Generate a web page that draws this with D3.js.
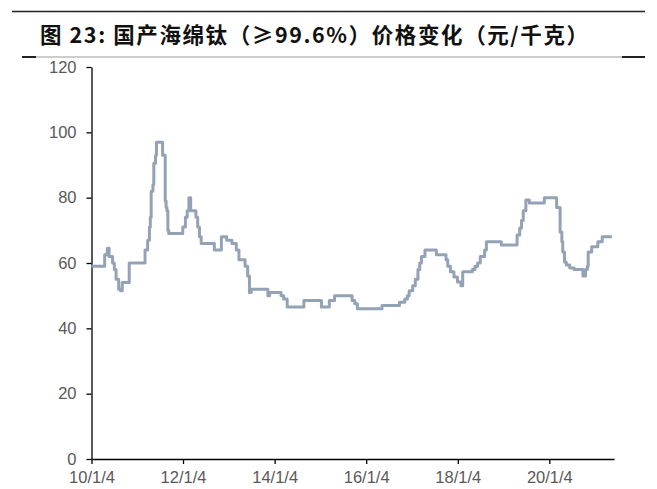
<!DOCTYPE html>
<html>
<head>
<meta charset="utf-8">
<script src="https://cdn.jsdelivr.net/npm/d3@7"></script>
<style>
  html, body { margin: 0; padding: 0; background: #fff; }
  svg { display: block; }
</style>
</head>
<body>
<svg id="chart" width="657" height="489"></svg>
<script>
// ---- data ----
const titleText = "图 23: 国产海绵钛（≥99.6%）价格变化（元/千克）";
const dates = [
  "2010-01-04","2010-04-19","2010-05-10","2010-05-24","2010-06-21","2010-07-05","2010-07-19","2010-08-09","2010-08-23","2010-09-06","2010-11-01",
  "2011-03-07","2011-03-28","2011-04-11","2011-04-18","2011-04-25","2011-05-09","2011-05-16","2011-05-30","2011-06-06","2011-07-25","2011-08-15","2011-08-22","2011-08-29","2011-09-05","2011-09-12",
  "2012-01-02","2012-01-23","2012-02-06","2012-02-20","2012-03-05","2012-04-16","2012-04-30","2012-05-14","2012-05-28","2012-09-10","2012-11-05","2012-12-17",
  "2013-01-28","2013-03-04","2013-03-25","2013-05-13","2013-06-03","2013-06-17","2013-07-01","2013-11-11","2013-11-25",
  "2014-02-24","2014-03-17","2014-04-14","2014-08-25",
  "2015-01-12","2015-03-16","2015-04-27","2015-09-14","2015-10-05","2015-10-26",
  "2016-05-09","2016-09-26","2016-11-07","2016-11-28","2016-12-12",
  "2017-01-09","2017-01-30","2017-02-20","2017-03-06","2017-03-20","2017-04-17","2017-07-17","2017-10-02","2017-10-16","2017-11-06","2017-12-04",
  "2018-01-01","2018-01-29","2018-02-12","2018-04-30","2018-05-21","2018-06-11","2018-07-02","2018-08-06","2018-08-20","2018-12-17",
  "2019-04-22","2019-05-13","2019-05-27","2019-06-10","2019-07-01","2019-07-29","2019-11-25",
  "2020-03-02","2020-03-30","2020-04-13","2020-04-20","2020-05-04","2020-05-18","2020-06-15","2020-07-20","2020-09-28","2020-10-19","2020-11-02","2020-11-09","2020-12-07",
  "2021-01-25","2021-03-01","2021-05-17"
];
const prices = [
  59,62.5,64.5,62,60,58,55,52,51.5,54,60,
  64,67,71,74,82,84,90.5,93,97,93,79,77,76,70,69,
  71,74,76,80,76,74,71,68,66,64,68,67,
  66,64,61,59,56,51,52,50,51,
  50,49,46.5,48.5,
  46.5,48.5,50,48.5,47.5,46,
  47,48,49,50,51.5,
  53,55,58,60,62,64,62.5,61,59,57.3,55.7,
  54.2,53,57.3,58,59,60,62,64,66.5,65.5,
  68.6,70.7,73,76,79.3,78.4,80,
  77,69.5,66.5,63.4,60.3,59.4,58.5,58,56,58,59,63.4,65,
  66.5,68,68
];
const yTicks = [0, 20, 40, 60, 80, 100, 120];
const xTickDates = ["2010-01-04","2012-01-04","2014-01-04","2016-01-04","2018-01-04","2020-01-04"];
const xTickLabels = ["10/1/4","12/1/4","14/1/4","16/1/4","18/1/4","20/1/4"];
const xEnd = "2021-06-03";

// ---- chart ----
const parse = d3.timeParse("%Y-%m-%d");
const data = dates.map((d, i) => ({ date: parse(d), value: prices[i] }));
const svg = d3.select("#chart");

const x = d3.scaleTime().domain([parse(dates[0]), parse(xEnd)]).range([91.5, 614]);
const y = d3.scaleLinear().domain([0, 120]).range([459, 67]);

// header rules
svg.append("line").attr("x1", 12).attr("x2", 645).attr("y1", 11.5).attr("y2", 11.5)
  .attr("stroke", "#222").attr("stroke-width", 1.5);
svg.append("line").attr("x1", 22).attr("x2", 645).attr("y1", 57).attr("y2", 57)
  .attr("stroke", "#9a9a9a").attr("stroke-width", 1);
svg.append("line").attr("x1", 22).attr("x2", 36).attr("y1", 57).attr("y2", 57)
  .attr("stroke", "#222").attr("stroke-width", 2);
svg.append("line").attr("x1", 622).attr("x2", 645).attr("y1", 57).attr("y2", 57)
  .attr("stroke", "#222").attr("stroke-width", 2);

svg.append("text").attr("x", 40).attr("y", 43)
  .attr("font-family", "'Noto Sans CJK SC', 'Liberation Sans', sans-serif")
  .attr("font-weight", "bold").attr("font-size", 21.5).attr("fill", "#111")
  .attr("letter-spacing", 1.6)
  .text(titleText);

// y axis
const yAxis = svg.append("g").attr("transform", "translate(91.5,0)")
  .call(d3.axisLeft(y).tickValues(yTicks).tickSize(5).tickSizeOuter(0).tickPadding(10));
yAxis.select(".domain").attr("stroke", "#000").attr("stroke-width", 1.3);
yAxis.selectAll(".tick line").attr("stroke", "#000").attr("stroke-width", 1.3);
yAxis.selectAll(".tick text").attr("font-family", "'Liberation Sans', Arial, sans-serif")
  .attr("font-size", 16.5).attr("fill", "#595959");

// x axis
const xAxis = svg.append("g").attr("transform", "translate(0,459)")
  .call(d3.axisBottom(x).tickValues(xTickDates.map(parse))
    .tickFormat((d, i) => xTickLabels[i]).tickSize(5).tickSizeOuter(0).tickPadding(7));
xAxis.select(".domain").attr("stroke", "#000").attr("stroke-width", 1.3);
xAxis.selectAll(".tick line").attr("stroke", "#000").attr("stroke-width", 1.3);
xAxis.selectAll(".tick text").attr("font-family", "'Liberation Sans', Arial, sans-serif")
  .attr("font-size", 16.5).attr("fill", "#595959");

// line
const line = d3.line().x(d => x(d.date)).y(d => y(d.value)).curve(d3.curveStepAfter);
svg.append("path").datum(data).attr("d", line)
  .attr("fill", "none").attr("stroke", "#93a3b5").attr("stroke-width", 3)
  .attr("stroke-linejoin", "round");
</script>
</body>
</html>
